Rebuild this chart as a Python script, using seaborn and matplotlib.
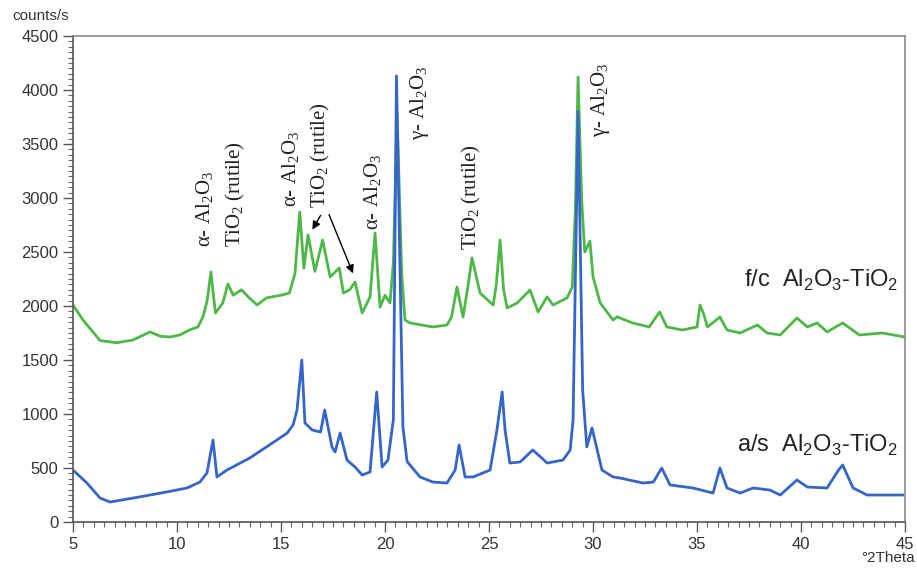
import pandas as pd
import seaborn as sns
import matplotlib.pyplot as plt
from matplotlib.ticker import MultipleLocator

# XRD patterns (2Theta, counts/s)
theta_fc = [5.0, 5.48, 5.96, 6.3, 7.1, 7.88, 8.7, 9.2, 9.66, 10.14, 10.6, 11.0, 11.25, 11.45,
            11.63, 11.75, 11.85, 12.2, 12.45, 12.7, 13.1, 13.5, 13.85, 14.3, 15.0, 15.4, 15.67,
            15.9, 16.1, 16.3, 16.63, 17.0, 17.36, 17.8, 18.0, 18.3, 18.56, 18.9, 19.28, 19.52,
            19.76, 20.0, 20.24, 20.4, 20.58, 20.8, 20.96, 21.2, 22.3, 22.98, 23.2, 23.46, 23.75,
            24.0, 24.18, 24.57, 25.2, 25.35, 25.53, 25.7, 25.87, 26.35, 26.97, 27.36, 27.79,
            28.08, 28.75, 29.0, 29.15, 29.28, 29.45, 29.6, 29.85, 30.0, 30.34, 30.96, 31.15,
            31.9, 32.7, 33.2, 33.55, 34.3, 35.0, 35.14, 35.3, 35.5, 36.1, 36.44, 37.07, 37.9,
            38.37, 39.0, 39.8, 40.3, 40.77, 41.25, 42.0, 42.8, 43.9, 45.0]
counts_fc = [2010, 1870, 1760, 1680, 1660, 1685, 1760, 1720, 1713, 1732, 1778, 1806, 1900, 2050,
             2315, 2100, 1935, 2028, 2204, 2100, 2150, 2070, 2010, 2075, 2100, 2120, 2300,
             2870, 2350, 2658, 2320, 2611, 2269, 2352, 2120, 2150, 2222, 1935, 2084, 2676,
             1990, 2100, 2028, 2400, 3790, 2300, 1870, 1843, 1806, 1824, 1900, 2176, 1898,
             2200, 2445, 2120, 2009, 2200, 2611, 2150, 1982, 2028, 2148, 1945, 2084,
             2009, 2075, 2176, 2900, 4120, 3000, 2500, 2600, 2269, 2030, 1870, 1900,
             1843, 1806, 1945, 1806, 1778, 1806, 2009, 1935, 1806, 1898, 1778, 1750, 1824,
             1750, 1732, 1889, 1806, 1843, 1760, 1843, 1732, 1750, 1713]

theta_as = [5.0, 5.67, 6.3, 6.78, 7.9, 8.7, 9.5, 10.48, 11.1, 11.44, 11.73, 11.92, 12.4, 13.5,
            14.3, 15.3, 15.58, 15.77, 16.0, 16.15, 16.5, 16.9, 17.1, 17.45, 17.6, 17.84, 18.17,
            18.56, 18.9, 19.28, 19.6, 19.86, 20.14, 20.4, 20.55, 20.86, 21.06, 21.68, 22.3,
            22.98, 23.37, 23.56, 23.85, 24.23, 25.05, 25.38, 25.63, 25.77, 26.0, 26.5, 27.1,
            27.8, 28.56, 28.9, 29.04, 29.28, 29.5, 29.7, 29.95, 30.2, 30.43, 30.96, 31.3, 32.4,
            32.9, 33.3, 33.7, 34.8, 35.77, 36.1, 36.44, 37.07, 37.7, 38.5, 39.0, 39.8, 40.3,
            41.25, 41.8, 42.0, 42.5, 43.17, 44.9]
counts_as = [481, 361, 222, 185, 222, 250, 278, 315, 370, 454, 759, 417, 481, 593,
             695, 824, 898, 1037, 1500, 917, 852, 833, 1037, 695, 648, 824, 574,
             509, 435, 463, 1204, 509, 574, 944, 4130, 880, 560, 417, 370,
             361, 481, 713, 417, 417, 481, 852, 1204, 852, 546, 556, 667,
             546, 574, 667, 944, 3800, 1222, 695, 870, 667, 481, 417, 407, 361,
             370, 500, 343, 315, 268, 500, 315, 268, 315, 296, 250, 389, 324,
             315, 481, 528, 315, 250, 250]

# peak labels: text, 2Theta, counts (bottom of the rotated label)
peak_text = [r"α- Al$_\mathrm{2}$O$_\mathrm{3}$", r"TiO$_\mathrm{2}$ (rutile)",
             r"α- Al$_\mathrm{2}$O$_\mathrm{3}$", r"TiO$_\mathrm{2}$ (rutile)",
             r"α- Al$_\mathrm{2}$O$_\mathrm{3}$", r"γ- Al$_\mathrm{2}$O$_\mathrm{3}$",
             r"TiO$_\mathrm{2}$ (rutile)", r"γ- Al$_\mathrm{2}$O$_\mathrm{3}$"]
peak_x = [11.35, 12.79, 15.48, 16.92, 19.42, 21.68, 24.18, 30.38]
peak_y = [2547, 2547, 2917, 2908, 2704, 3537, 2519, 3565]

sns.set_theme(style="ticks")
plt.rcParams["font.family"] = ["Liberation Sans", "DejaVu Sans"]
plt.rcParams["mathtext.fontset"] = "custom"
plt.rcParams["mathtext.rm"] = "Liberation Serif"
plt.rcParams["mathtext.sf"] = "Liberation Sans"

fig = plt.figure(figsize=(9.17, 5.69), dpi=100)
ax = fig.add_axes([0.0796, 0.0826, 0.9074, 0.8541])

fc = pd.DataFrame({"theta": theta_fc, "counts": counts_fc})
a_s = pd.DataFrame({"theta": theta_as, "counts": counts_as})
sns.lineplot(data=fc, x="theta", y="counts", color="#4db848", lw=2.0, sort=False,
             estimator=None, ax=ax)
sns.lineplot(data=a_s, x="theta", y="counts", color="#3565c9", lw=2.0, sort=False,
             estimator=None, ax=ax)

ax.set_xlim(5, 45)
ax.set_ylim(0, 4500)
ax.xaxis.set_major_locator(MultipleLocator(5))
ax.xaxis.set_minor_locator(MultipleLocator(0.5))
ax.yaxis.set_major_locator(MultipleLocator(500))
ax.yaxis.set_minor_locator(MultipleLocator(50))
ax.tick_params(which="major", length=7, width=1, color="#555555", labelsize=12,
               labelcolor="#333333", direction="out")
ax.tick_params(which="minor", length=3.5, width=0.8, color="#666666", direction="out")
ax.set_xlabel("")
ax.set_ylabel("")
for side in ["left", "bottom"]:
    ax.spines[side].set_color("#555555")
    ax.spines[side].set_linewidth(1.2)
for side in ["top", "right"]:
    ax.spines[side].set_visible(True)
    ax.spines[side].set_color("#8a8a8a")
    ax.spines[side].set_linewidth(1.2)

fig.text(12 / 917, 1 - 16 / 569, "counts/s", fontsize=11, color="#333333", va="center")
fig.text(915 / 917, 1 - 558 / 569, "°2Theta", fontsize=11, color="#333333", va="center",
         ha="right")

for t, x, y in zip(peak_text, peak_x, peak_y):
    ax.text(x, y, t, rotation=90, ha="center", va="bottom", fontsize=15,
            family="Liberation Serif", color="#222222")

arrow = dict(arrowstyle="-|>", color="black", lw=1.0, mutation_scale=12)
ax.annotate("", xy=(16.44, 2685), xytext=(16.97, 2861), arrowprops=arrow)
ax.annotate("", xy=(18.51, 2278), xytext=(17.26, 2870), arrowprops=arrow)

ax.text(44.66, 2176, r"f/c  Al$_\mathsf{2}$O$_\mathsf{3}$-TiO$_\mathsf{2}$", fontsize=17,
        ha="right", va="baseline", color="#222222")
ax.text(44.66, 648, r"a/s  Al$_\mathsf{2}$O$_\mathsf{3}$-TiO$_\mathsf{2}$", fontsize=17,
        ha="right", va="baseline", color="#222222")

fig.savefig("out.png", dpi=100)
